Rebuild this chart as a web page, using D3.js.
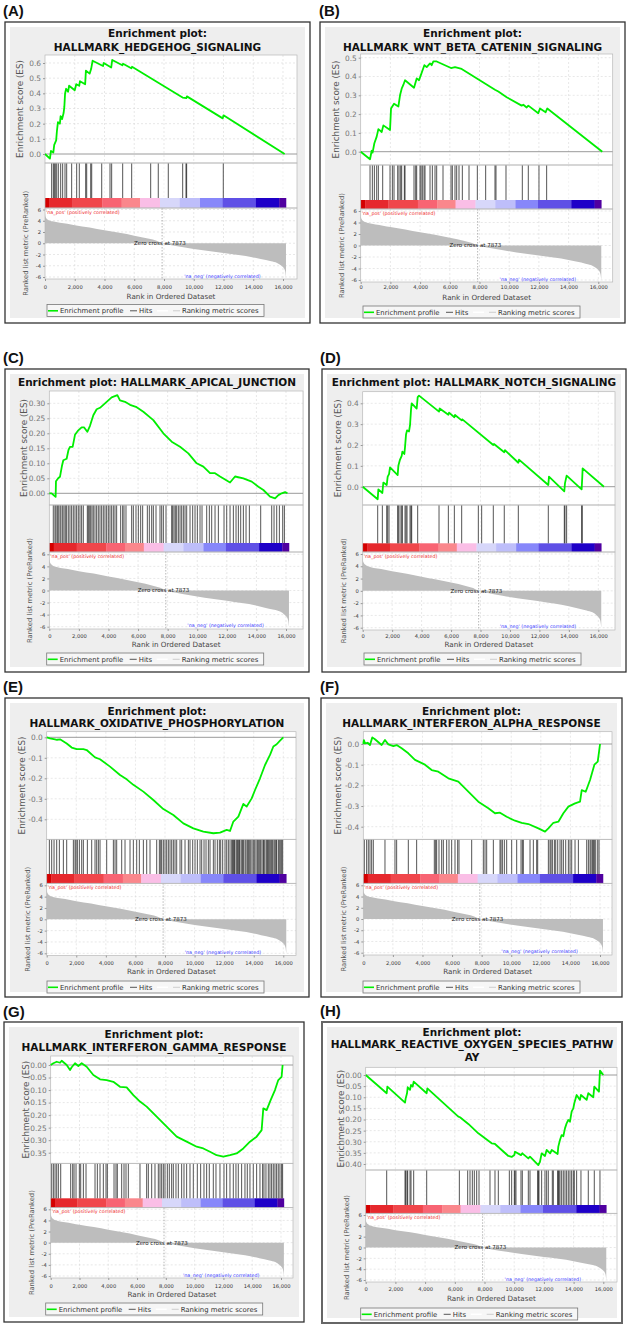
<!DOCTYPE html>
<html><head><meta charset="utf-8">
<script src="https://cdn.jsdelivr.net/npm/d3@7"></script>
<style>body{margin:0;background:#fff}svg{display:block}text{font-family:"DejaVu Sans",sans-serif}</style>
</head><body><svg id="c" width="629" height="1328"></svg>
<script>
// ---------------- DATA ----------------
const panelLetters = ["A","B","C","D","E","F","G","H"];
const panelTitles = [
  ["Enrichment plot:","HALLMARK_HEDGEHOG_SIGNALING"],
  ["Enrichment plot:","HALLMARK_WNT_BETA_CATENIN_SIGNALING"],
  ["Enrichment plot: HALLMARK_APICAL_JUNCTION"],
  ["Enrichment plot: HALLMARK_NOTCH_SIGNALING"],
  ["Enrichment plot:","HALLMARK_OXIDATIVE_PHOSPHORYLATION"],
  ["Enrichment plot:","HALLMARK_INTERFERON_ALPHA_RESPONSE"],
  ["Enrichment plot:","HALLMARK_INTERFERON_GAMMA_RESPONSE"],
  ["Enrichment plot:","HALLMARK_REACTIVE_OXYGEN_SPECIES_PATHW","AY"]
];
const rankTicks = [0,2000,4000,6000,8000,10000,12000,14000,16000];
const metricTicks = [-6,-4,-2,0,2,4,6];
const zeroCross = 7873;
const zeroCrossLabel = "Zero cross at 7873";
const posLabel = "'na_pos' (positively correlated)";
const negLabel = "'na_neg' (negatively correlated)";
const legendLabels = ["Enrichment profile","Hits","Ranking metric scores"];

// ranked list metric (shared by all panels)
const metricRanks  = [0,15,60,200,500,1000,1500,2000,3000,4000,5000,6000,7000,7500,7873,8500,9500,10500,11500,12500,13500,14500,15200,15600,15900,16050,16150,16200];
const metricValues = [5.6,5.0,4.6,4.2,3.9,3.65,3.45,3.2,2.8,2.3,1.85,1.35,0.8,0.45,0,-0.35,-0.8,-1.2,-1.55,-1.9,-2.25,-2.8,-3.2,-3.5,-4.0,-4.4,-5.0,-6.0];

// colour bar of the ranked list
const colorBreaks = [0,300,1850,3850,5150,6390,7730,9060,10420,11940,14180,15750,16200];
const colorShades = ["#d40000","#e6282d","#f0464b","#f86473","#fa878c","#fabee6","#d7d7fa","#bebefa","#8787fa","#5f50e6","#1e00c8","#5000a0"];

// ES tick values
const esTicksA = [0,0.1,0.2,0.3,0.4,0.5,0.6];
const esTicksB = [0,0.1,0.2,0.3,0.4,0.5];
const esTicksC = [0,0.05,0.10,0.15,0.20,0.25,0.30];
const esTicksD = [0,0.1,0.2,0.3,0.4];
const esTicksE = [0,-0.1,-0.2,-0.3,-0.4];
const esTicksF = [0,-0.1,-0.2,-0.3,-0.4];
const esTicksG = [0,-0.05,-0.10,-0.15,-0.20,-0.25,-0.30,-0.35];
const esTicksH = [0,-0.05,-0.10,-0.15,-0.20,-0.25,-0.30,-0.35,-0.40];
const esDigits = [1,1,2,1,1,1,2,2];

// Enrichment profiles (rank, ES)
const esRanksA = [0,330,400,560,620,750,800,870,1000,1050,1150,1250,1300,1350,1420,1550,1620,2000,2100,2300,2350,2700,2750,3000,3100,3200,3900,3950,4450,4520,5200,5250,5800,5850,9250,9500,9540,11950,12000,16110];
const esValsA  = [0,-0.03,0.02,0.01,0.06,0.09,0.15,0.21,0.20,0.25,0.23,0.27,0.31,0.40,0.43,0.41,0.45,0.42,0.46,0.45,0.48,0.46,0.55,0.53,0.56,0.615,0.58,0.60,0.57,0.62,0.585,0.595,0.565,0.575,0.372,0.368,0.38,0.235,0.255,0];
const hitsA = [448,560,627,694,785,896,1054,1188,1345,1457,1793,2130,2306,2735,2803,3073,3140,3812,4370,4482,5222,5827,7104,7615,8288,9256,9479,9523,11986];

const esRanksB = [0,628,740,800,920,1077,1189,1414,1526,1975,2042,2244,2536,2648,2760,2870,2985,3590,3770,3927,4062,4286,4443,4668,4780,4892,5116,6081,6350,6799,9043,9268,9829,10839,10951,11175,11287,11960,12072,12454,12566,16269];
const esValsB  = [0,-0.04,0.005,-0.005,0.045,0.08,0.12,0.105,0.14,0.115,0.23,0.255,0.24,0.30,0.335,0.355,0.38,0.34,0.39,0.38,0.41,0.46,0.45,0.47,0.46,0.48,0.48,0.445,0.45,0.44,0.33,0.32,0.29,0.245,0.25,0.235,0.245,0.205,0.23,0.21,0.23,0];
const hitsB = [628,785,920,1077,1189,1481,1975,2132,2244,2491,2581,2693,2760,2940,2985,3590,3703,3770,3994,4062,4151,4264,4331,4668,4825,5004,5116,5543,6081,6171,6350,6463,6620,6844,7293,7854,8415,9043,9111,9784,10883,11287,12005,12522];

const esRanksC = [0,158,270,428,451,600,721,850,947,1172,1300,1397,1578,1736,1961,2186,2344,2570,2750,2975,3201,3426,3651,3877,4215,4600,4778,5117,5455,5905,6356,7032,7708,8272,8836,9399,9963,10414,10865,11203,11541,12217,12555,13118,13682,14133,14471,14921,15260,15485,15710,15936,16100];
const esValsC  = [0,0.0,-0.005,-0.012,0.04,0.05,0.055,0.09,0.11,0.115,0.145,0.155,0.155,0.195,0.21,0.22,0.22,0.205,0.225,0.26,0.28,0.285,0.295,0.305,0.32,0.327,0.31,0.305,0.295,0.287,0.272,0.244,0.20,0.172,0.155,0.133,0.10,0.089,0.067,0.067,0.056,0.036,0.056,0.05,0.039,0.022,0.011,-0.011,-0.017,-0.006,0.0,0.004,0];
const hitsC = [270,383,451,541,609,721,789,902,992,1082,1172,1285,1397,1510,1623,1736,1848,1961,2074,2186,2299,2570,2637,2705,2795,2885,2975,3088,3201,3313,3426,3539,3651,3764,3877,3990,4102,4215,4328,4440,4553,4824,4959,5049,5184,5567,5680,5860,6018,6176,6311,6627,6762,6920,7032,7213,7483,7596,7709,7889,8272,8340,8430,8520,8610,8723,8836,8948,9061,9174,9287,9512,9692,9850,10008,10188,10323,10639,10819,10977,11203,11428,11811,11992,12217,12442,12623,12780,12938,13118,13299,13524,14290,15034,15192,15372,15553,15778,15891];

const esRanksD = [0,1018,1063,1335,1403,1630,1697,1788,1856,2376,2421,2535,2648,2693,2829,2874,2942,3010,3146,3214,3282,3327,3666,3734,3825,5183,5229,5817,5862,6224,6269,6722,6767,8870,8915,9615,9660,10568,10613,12605,12650,13691,13736,13849,14868,14913,14936,16383];
const esValsD  = [0,-0.06,-0.013,-0.03,0.02,0.008,0.048,0.06,0.093,0.056,0.10,0.13,0.148,0.168,0.157,0.19,0.25,0.27,0.265,0.295,0.37,0.40,0.375,0.43,0.437,0.36,0.375,0.345,0.355,0.333,0.344,0.318,0.323,0.20,0.205,0.165,0.175,0.115,0.13,0.008,0.048,-0.022,0.016,0.053,-0.013,0.048,0.088,0];
const hitsD = [1018,1335,1630,1697,1788,2376,2421,2535,2648,2693,2874,2942,3010,3214,3282,3327,3734,5183,5817,6224,6722,7853,8079,8870,9615,10568,12605,13691,13736,13849,14868,14913];

const esRanksE = [0,225,563,700,901,1352,1690,2028,2479,2704,3268,3606,4282,4958,5409,5860,6536,7212,7888,8564,9241,9917,10593,11270,11721,12172,12397,12622,12961,13299,13524,13862,14088,14426,14764,15102,15327,15553,15778,16003];
const esValsE  = [0,-0.005,-0.01,-0.012,-0.01,-0.03,-0.05,-0.058,-0.058,-0.062,-0.098,-0.107,-0.143,-0.184,-0.205,-0.232,-0.265,-0.306,-0.35,-0.379,-0.42,-0.444,-0.46,-0.468,-0.465,-0.452,-0.457,-0.411,-0.387,-0.325,-0.338,-0.298,-0.257,-0.2,-0.135,-0.086,-0.045,-0.034,-0.016,0];
const hitsE = [180,338,496,676,857,1127,1352,1803,1916,1984,2074,2209,2367,2479,2750,3043,3268,3381,3494,3606,4057,4508,4621,4733,5072,5297,5635,5860,6086,6266,6537,6762,6987,7438,7619,7709,7776,7889,8002,8114,8227,8340,8453,8565,8678,8791,9016,9129,9354,9580,9692,9873,10030,10188,10368,10481,10639,10774,10932,11045,11270,11383,11540,11676,11766,11901,12059,12172,12284,12397,12510,12577,12622,12690,12735,12848,12893,12961,13028,13073,13186,13254,13299,13411,13479,13569,13637,13704,13795,13885,13975,14065,14155,14245,14313,14403,14471,14561,14651,14696,14764,14876,14921,14989,15057,15147,15215,15282,15372,15440,15508,15553,15665,15733,15823,15891,15958];

const esRanksF = [0,40,113,293,451,609,789,1240,1465,1691,2029,2254,2592,3043,3494,4170,4621,5072,5748,6424,7100,7776,8453,8903,9241,9692,10256,10707,11157,11834,12284,12510,12848,13186,13524,13862,14313,14651,14764,15035,15327,15620,15846,15936,16003];
const esValsF  = [0,0.019,0.003,0.006,-0.005,0.032,0.023,-0.005,0.019,-0.002,-0.01,-0.005,-0.021,-0.045,-0.077,-0.10,-0.126,-0.134,-0.166,-0.182,-0.23,-0.279,-0.311,-0.335,-0.332,-0.352,-0.371,-0.381,-0.387,-0.408,-0.424,-0.408,-0.381,-0.376,-0.335,-0.303,-0.287,-0.279,-0.223,-0.231,-0.174,-0.10,-0.085,-0.037,0];
const hitsF = [68,225,338,451,564,676,1465,2141,2254,3043,3606,4801,4891,4959,5117,5297,5410,5635,5793,5973,6199,6379,6469,7326,8114,8227,8340,8791,9241,9309,9400,9535,9692,10030,10368,10661,10751,10819,11270,11495,11720,11788,12510,12622,12690,12780,12916,13006,13141,13299,13411,13524,13682,13862,13975,14088,14313,14539,15102,15215,15327,15395,15485,15553,15620,15710,15846,15936];

const esRanksG = [0,185,417,648,764,1111,1343,1458,1690,1921,2153,2500,2963,3426,3889,4352,4815,5278,5741,6204,6667,7362,8056,8751,9445,10140,10603,11066,11529,11992,12455,12918,13381,13844,14307,14654,14770,15002,15280,15580,15811,16042,16112];
const esValsG  = [0,0.007,0.013,0.009,0.017,0.0,-0.02,-0.009,0.007,-0.004,0.007,-0.007,-0.04,-0.057,-0.06,-0.067,-0.087,-0.089,-0.12,-0.146,-0.166,-0.206,-0.246,-0.286,-0.306,-0.326,-0.333,-0.346,-0.36,-0.366,-0.36,-0.353,-0.333,-0.306,-0.286,-0.26,-0.173,-0.18,-0.14,-0.10,-0.06,-0.047,0];
const hitsG = [69,185,301,417,532,695,1389,1528,1621,1759,1991,2084,2269,2454,3079,3241,3426,3657,3843,3936,4399,4537,4630,4931,5093,5232,5394,6204,6667,6783,7015,7246,7477,7593,7709,7825,7940,8103,8241,8403,8519,8704,8866,9098,9260,9445,9677,9908,10186,10418,10649,10834,11019,11297,11482,11760,12038,12223,12455,12686,12871,13033,13265,13496,13658,13844,14075,14307,14538,14723,14816,14955,15117,15233,15348,15464,15580,15695,15811,15927,16043,16112];

const esRanksH = [0,1414,1459,2648,2693,2783,2828,2985,3052,3164,3231,4106,4151,6238,6350,6911,7585,8482,8707,9605,9830,10008,10053,10457,10547,10951,11063,11624,11736,11848,12073,12185,12420,12530,12925,12970,13082,13195,13307,13419,13531,13643,13755,13868,13980,14047,14204,14428,14496,14877,14989,15326,15393,15707,15775,16000];
const esValsH  = [0,-0.082,-0.052,-0.124,-0.105,-0.082,-0.055,-0.067,-0.045,-0.052,-0.03,-0.082,-0.06,-0.187,-0.19,-0.22,-0.262,-0.307,-0.31,-0.364,-0.368,-0.36,-0.345,-0.36,-0.352,-0.375,-0.367,-0.405,-0.39,-0.352,-0.364,-0.337,-0.352,-0.337,-0.355,-0.322,-0.292,-0.27,-0.275,-0.24,-0.217,-0.202,-0.21,-0.165,-0.15,-0.127,-0.09,-0.112,-0.09,-0.112,-0.082,-0.10,-0.052,-0.075,0.02,0];
const hitsH = [1414,2648,2693,2783,2828,2985,3052,3231,4107,6306,6867,7024,7181,7315,7473,7630,8370,8707,8931,9672,9829,10008,10053,10120,10457,10547,10951,11063,11579,11624,11669,11848,12073,12185,12297,12566,12634,12925,12970,13015,13082,13195,13307,13419,13531,13643,13755,13868,13980,14047,14204,14496,14989,15393,15775];

const esRanksAll = [esRanksA,esRanksB,esRanksC,esRanksD,esRanksE,esRanksF,esRanksG,esRanksH];
const esValsAll  = [esValsA,esValsB,esValsC,esValsD,esValsE,esValsF,esValsG,esValsH];
const hitsAll    = [hitsA,hitsB,hitsC,hitsD,hitsE,hitsF,hitsG,hitsH];
const esTicksAll = [esTicksA,esTicksB,esTicksC,esTicksD,esTicksE,esTicksF,esTicksG,esTicksH];

// ---------------- LAYOUT (pixels) ----------------
const layouts = [
 {box:[5,22,305,301], lab:[3,15.5], tY:37, tG:13.5, x0:45, x16:283, pR:297, esTop:55, esBot:163, es0:154, rV:0.6, rY:63, hB:198, bB:208, y6:209.5, ym6:277, rB:279, xtY:289, xlY:299, lg:[47,304.5]},
 {box:[320,22,305,301], lab:[319,15.5], tY:37, tG:14, x0:360.7, x16:598.3, pR:612.7, esTop:54, esBot:165, es0:151.7, rV:0.5, rY:57.7, hB:200, bB:209, y6:211, ym6:280, rB:282, xtY:289, xlY:299.5, lg:[363,306]},
 {box:[5,369,304,303], lab:[3,363], tY:386, tG:13, x0:49.3, x16:286, pR:303, esTop:391, esBot:505, es0:493.3, rV:0.3, rY:403.3, hB:543, bB:552, y6:554.3, ym6:626.7, rB:629, xtY:637.5, xlY:646.5, lg:[46.7,653]},
 {box:[322,369,304,303], lab:[320,363], tY:385.5, tG:13, x0:362.7, x16:598.3, pR:615, esTop:391.7, esBot:505, es0:486.7, rV:0.4, rY:403.3, hB:543.3, bB:552, y6:554, ym6:627.7, rB:630, xtY:637.5, xlY:646.5, lg:[364,653]},
 {box:[5,698,304,299], lab:[3,691.5], tY:714.5, tG:12, x0:46.7, x16:283.3, pR:296, esTop:731.7, esBot:839.3, es0:737.3, rV:-0.4, rY:819.3, hB:874, bB:883.3, y6:885.3, ym6:953.3, rB:955.5, xtY:964.5, xlY:973.5, lg:[47,981]},
 {box:[321,698,301,299], lab:[320,691.5], tY:714.5, tG:12, x0:363.3, x16:600, pR:612, esTop:731.7, esBot:839.3, es0:744, rV:-0.4, rY:826.7, hB:874, bB:883.3, y6:885.3, ym6:952.7, rB:955, xtY:964.5, xlY:973.5, lg:[363,981]},
 {box:[4,1022,300,300], lab:[3,1017], tY:1038, tG:12.5, x0:50.7, x16:281, pR:293, esTop:1056, esBot:1163.3, es0:1065, rV:-0.35, rY:1152.7, hB:1198.3, bB:1207.7, y6:1209.3, ym6:1276, rB:1278, xtY:1287.5, xlY:1297, lg:[45.7,1303]},
 {box:[322,1022,300,301], lab:[320,1016], tY:1035.5, tG:12.8, x0:365.7, x16:603.3, pR:617, esTop:1067.3, esBot:1170, es0:1075, rV:-0.4, rY:1164, hB:1205, bB:1213.3, y6:1215, ym6:1280, rB:1282, xtY:1290.5, xlY:1300.5, lg:[360.7,1308], border:"#666", bw:2}
];

// ---------------- DRAW ----------------
const svg = d3.select("#c");
const gridCol = "#d9d9d9";

function drawPanel(i){
  const L = layouts[i];
  const g = svg.append("g");
  const [bx,by,bw,bh] = L.box;
  g.append("rect").attr("x",bx).attr("y",by).attr("width",bw).attr("height",bh)
    .attr("fill","#fff").attr("stroke",L.border||"#333").attr("stroke-width",L.bw||1.3);
  g.append("rect").attr("x",bx+5).attr("y",by+5).attr("width",bw-10).attr("height",bh-10).attr("fill","#eeeeee");

  svg.append("text").attr("x",L.lab[0]).attr("y",L.lab[1]).text("("+panelLetters[i]+")")
    .style("font-family","'Liberation Sans',Arial,sans-serif").style("font-weight","bold").style("font-size","15px").attr("fill","#111");

  panelTitles[i].forEach((t,k)=>{
    g.append("text").attr("x",bx+bw/2).attr("y",L.tY+k*L.tG).attr("text-anchor","middle")
      .style("font-weight","bold").style("font-size","10.5px").attr("fill","#111").text(t);
  });

  const x = d3.scaleLinear().domain([0,16000]).range([L.x0,L.x16]);
  const y = d3.scaleLinear().domain([0,L.rV]).range([L.es0,L.rY]);
  const m = d3.scaleLinear().domain([6,-6]).range([L.y6,L.ym6]);

  g.append("rect").attr("x",L.x0).attr("y",L.esTop).attr("width",L.pR-L.x0).attr("height",L.rB-L.esTop).attr("fill","#fff");

  const gridX = rankTicks.filter(d=>d>0);
  g.selectAll(null).data(gridX).enter().append("line")
    .attr("x1",d=>x(d)).attr("x2",d=>x(d)).attr("y1",L.esTop).attr("y2",L.esBot)
    .attr("stroke",gridCol).attr("stroke-width",0.6).attr("stroke-dasharray","2,2");
  g.selectAll(null).data(esTicksAll[i].filter(d=>d!==0)).enter().append("line")
    .attr("x1",L.x0).attr("x2",L.pR).attr("y1",d=>y(d)).attr("y2",d=>y(d))
    .attr("stroke",gridCol).attr("stroke-width",0.6).attr("stroke-dasharray","2,2");
  g.selectAll(null).data(gridX).enter().append("line")
    .attr("x1",d=>x(d)).attr("x2",d=>x(d)).attr("y1",L.esBot).attr("y2",L.hB)
    .attr("stroke","#ececec").attr("stroke-width",0.6).attr("stroke-dasharray","2,2");
  g.selectAll(null).data(gridX).enter().append("line")
    .attr("x1",d=>x(d)).attr("x2",d=>x(d)).attr("y1",L.bB).attr("y2",L.rB)
    .attr("stroke",gridCol).attr("stroke-width",0.6).attr("stroke-dasharray","2,2");
  g.selectAll(null).data(metricTicks).enter().append("line")
    .attr("x1",L.x0).attr("x2",L.pR).attr("y1",d=>m(d)).attr("y2",d=>m(d))
    .attr("stroke",gridCol).attr("stroke-width",0.6).attr("stroke-dasharray","2,2");

  const metric = metricRanks.map((r,k)=>[r,metricValues[k]]);
  g.append("path").datum(metric)
    .attr("d",d3.area().x(d=>x(d[0])).y0(m(0)).y1(d=>m(d[1])).curve(d3.curveMonotoneX))
    .attr("fill","#bdbdbd");

  g.append("line").attr("x1",x(zeroCross)).attr("x2",x(zeroCross)).attr("y1",L.bB).attr("y2",L.rB)
    .attr("stroke","#999").attr("stroke-width",0.7).attr("stroke-dasharray","1.5,1.5");
  g.append("text").attr("x",x(7720)).attr("y",m(0)+1.9).attr("text-anchor","middle")
    .style("font-size","5.5px").attr("fill","#222").text(zeroCrossLabel);
  g.append("text").attr("x",L.x0+1).attr("y",L.bB+5.5)
    .style("font-size","4.8px").attr("fill","#ee2a2a").text(posLabel);
  g.append("text").attr("x",x(14500)).attr("y",L.ym6+0.5).attr("text-anchor","end")
    .style("font-size","4.8px").attr("fill","#3a3aff").text(negLabel);

  const segs = colorShades.map((c,k)=>({a:colorBreaks[k],b:colorBreaks[k+1],c}));
  g.selectAll(null).data(segs).enter().append("rect")
    .attr("x",d=>x(d.a)).attr("width",d=>x(d.b)-x(d.a)+0.3).attr("y",L.hB).attr("height",L.bB-L.hB)
    .attr("fill",d=>d.c);

  g.selectAll(null).data(hitsAll[i]).enter().append("line")
    .attr("x1",d=>x(d)).attr("x2",d=>x(d)).attr("y1",L.esBot).attr("y2",L.hB)
    .attr("stroke","#000").attr("stroke-opacity",0.75).attr("stroke-width",0.9);

  const frame = (y1,y2)=>g.append("rect").attr("x",L.x0).attr("y",y1).attr("width",L.pR-L.x0).attr("height",y2-y1)
      .attr("fill","none").attr("stroke","#b8b8b8").attr("stroke-width",0.7);
  frame(L.esTop,L.esBot); frame(L.esBot,L.bB); frame(L.bB,L.rB);

  g.append("line").attr("x1",L.x0).attr("x2",L.pR).attr("y1",y(0)).attr("y2",y(0))
    .attr("stroke","#9a9a9a").attr("stroke-width",1);

  const es = esRanksAll[i].map((r,k)=>[r,esValsAll[i][k]]);
  g.append("path").datum(es).attr("d",d3.line().x(d=>x(d[0])).y(d=>y(d[1])))
    .attr("fill","none").attr("stroke","#00ee00").attr("stroke-width",1.8).attr("stroke-linejoin","round");

  const dg = esDigits[i];
  const ax = g.append("g").attr("transform",`translate(${L.x0},0)`)
    .call(d3.axisLeft(y).tickValues(esTicksAll[i]).tickFormat(d=>d.toFixed(dg)).tickSize(2).tickPadding(2));
  ax.select(".domain").remove();
  ax.selectAll("line").attr("stroke","#999");
  ax.selectAll("text").style("font-size","7.4px").attr("fill","#777").style("font-family","'DejaVu Sans',sans-serif");

  const am = g.append("g").attr("transform",`translate(${L.x0},0)`)
    .call(d3.axisLeft(m).tickValues(metricTicks).tickFormat(d=>String(d)).tickSize(2).tickPadding(2));
  am.select(".domain").remove();
  am.selectAll("line").attr("stroke","#999");
  am.selectAll("text").style("font-size","5.2px").attr("fill","#333").style("font-family","'DejaVu Sans',sans-serif");

  const fsx = 5.2;
  const axx = g.append("g").attr("transform",`translate(0,${L.rB})`)
    .call(d3.axisBottom(x).tickValues(rankTicks).tickFormat(d3.format(",")).tickSize(2)
      .tickPadding(L.xtY-L.rB-2-0.71*fsx));
  axx.select(".domain").remove();
  axx.selectAll("line").attr("stroke","#999");
  axx.selectAll("text").style("font-size",fsx+"px").attr("fill","#333").style("font-family","'DejaVu Sans',sans-serif");

  g.append("text").attr("transform",`translate(${L.x0-22},${(L.esTop+L.esBot)/2}) rotate(-90)`)
    .attr("text-anchor","middle").style("font-size","8.8px").attr("fill","#555").text("Enrichment score (ES)");
  g.append("text").attr("transform",`translate(${L.x0-17},${m(0)}) rotate(-90)`)
    .attr("text-anchor","middle").style("font-size","6.8px").attr("fill","#555").text("Ranked list metric (PreRanked)");
  g.append("text").attr("x",(L.x0+L.pR)/2).attr("y",L.xlY).attr("text-anchor","middle")
    .style("font-size","7.2px").attr("fill","#444").text("Rank in Ordered Dataset");

  const lg = g.append("g").attr("transform",`translate(${L.lg[0]},${L.lg[1]})`);
  lg.append("rect").attr("width",217).attr("height",12).attr("fill","#f6f6f6").attr("stroke","#777").attr("stroke-width",0.8);
  lg.append("line").attr("x1",1).attr("x2",11).attr("y1",6.3).attr("y2",6.3).attr("stroke","#00ee00").attr("stroke-width",1.6);
  lg.append("text").attr("x",13).attr("y",8.6).style("font-size","6.9px").attr("fill","#333").text(legendLabels[0]);
  lg.append("line").attr("x1",83).attr("x2",90).attr("y1",6.3).attr("y2",6.3).attr("stroke","#444").attr("stroke-width",0.9);
  lg.append("text").attr("x",92).attr("y",8.6).style("font-size","6.9px").attr("fill","#333").text(legendLabels[1]);
  lg.append("line").attr("x1",110).attr("x2",121).attr("y1",6.3).attr("y2",6.3).attr("stroke","#fff").attr("stroke-width",1.5);
  lg.append("line").attr("x1",126).attr("x2",133).attr("y1",6.3).attr("y2",6.3).attr("stroke","#c8c8c8").attr("stroke-width",0.9);
  lg.append("text").attr("x",135).attr("y",8.6).style("font-size","6.9px").attr("fill","#333").text(legendLabels[2]);
}

for (let i=0;i<8;i++) drawPanel(i);
</script>
</body></html>
